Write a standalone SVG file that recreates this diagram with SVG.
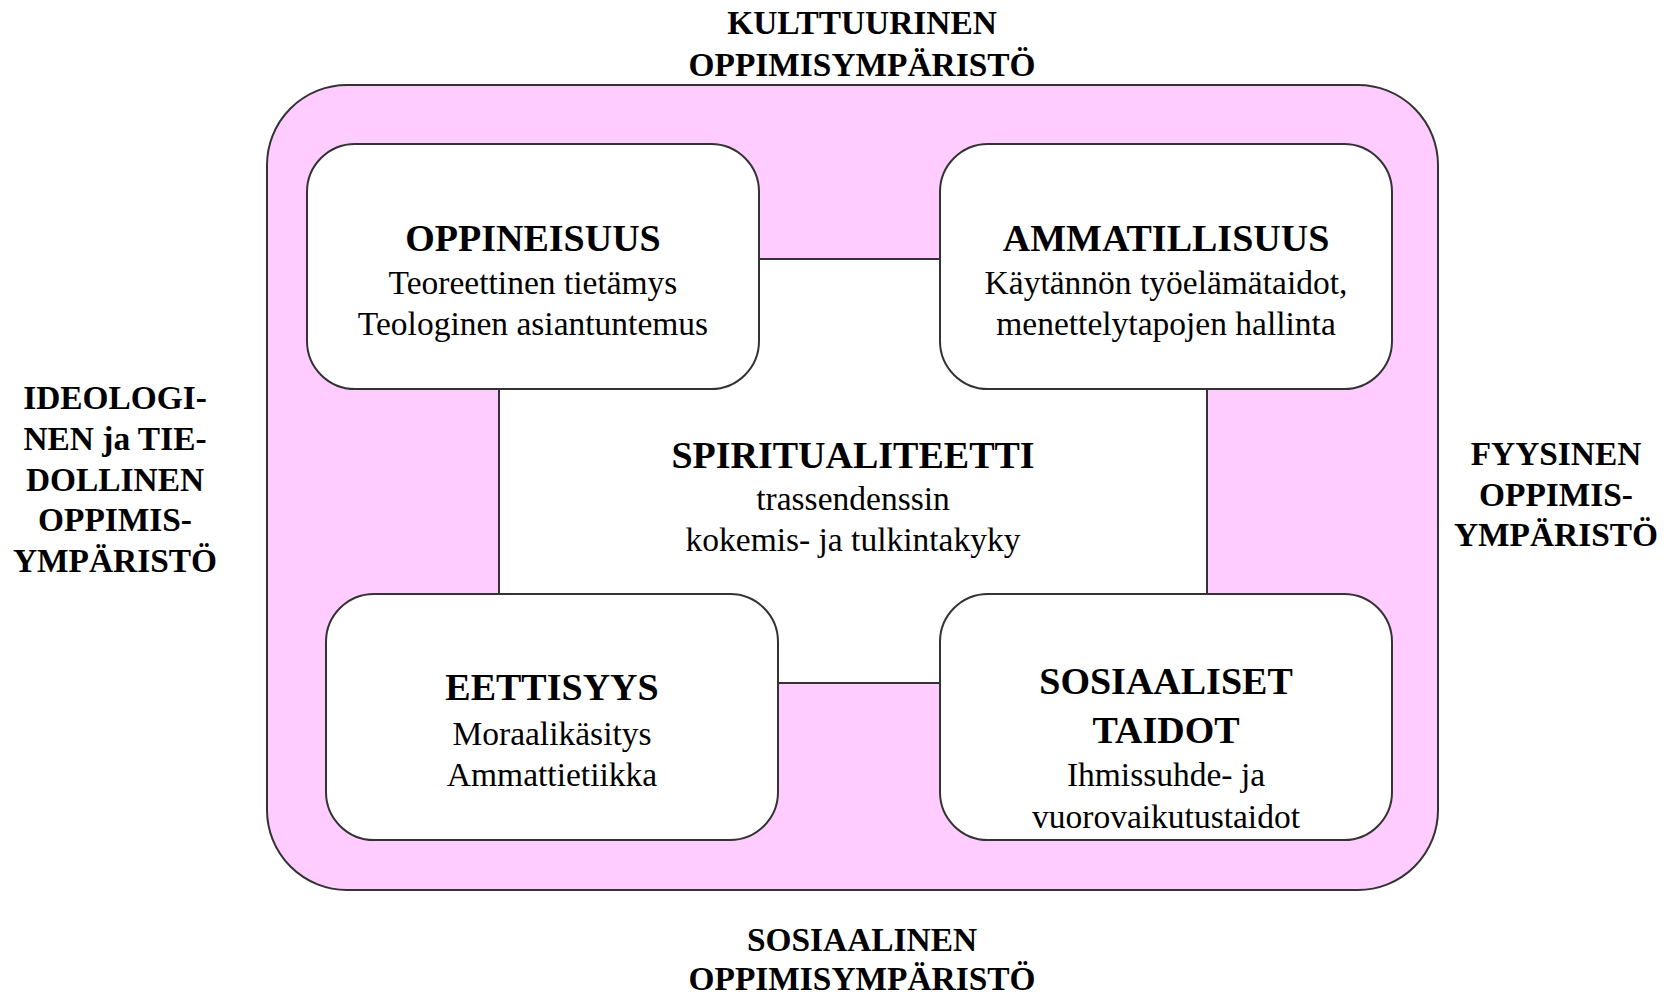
<svg xmlns="http://www.w3.org/2000/svg" width="1671" height="996" viewBox="0 0 1671 996">
<style>
.lbl{font-family:"Liberation Serif","Times New Roman",serif;font-weight:bold;font-size:33.4px;fill:#000;text-anchor:middle}
.ttl{font-family:"Liberation Serif","Times New Roman",serif;font-weight:bold;font-size:38px;fill:#000;text-anchor:middle}
.txt{font-family:"Liberation Serif","Times New Roman",serif;font-size:33.5px;fill:#000;text-anchor:middle}
.box{fill:#fff;stroke:#333;stroke-width:2}
.con{stroke:#333;stroke-width:2;fill:none}
</style>
<rect width="1671" height="996" fill="#fff"/>
<g id="outer">
<rect x="267" y="85" width="1171" height="805" rx="80" ry="80" fill="#FFCCFF" stroke="#333" stroke-width="2"/>
</g>
<g id="labels">
<text class="lbl" x="862" y="34">KULTTUURINEN</text>
<text class="lbl" x="862" y="76">OPPIMISYMPÄRISTÖ</text>
<text class="lbl" x="862" y="951">SOSIAALINEN</text>
<text class="lbl" x="862" y="990">OPPIMISYMPÄRISTÖ</text>
<text class="lbl" x="115" y="409">IDEOLOGI-</text>
<text class="lbl" x="115" y="450">NEN ja TIE-</text>
<text class="lbl" x="115" y="491">DOLLINEN</text>
<text class="lbl" x="115" y="531">OPPIMIS-</text>
<text class="lbl" x="115" y="572">YMPÄRISTÖ</text>
<text class="lbl" x="1556" y="465">FYYSINEN</text>
<text class="lbl" x="1556" y="506">OPPIMIS-</text>
<text class="lbl" x="1556" y="546">YMPÄRISTÖ</text>
</g>
<g id="spiritualiteetti">
<rect x="499" y="259" width="708" height="424" fill="#fff"/>
<text class="ttl" x="853" y="468">SPIRITUALITEETTI</text>
<text class="txt" x="853" y="510">trassendenssin</text>
<text class="txt" x="853" y="551">kokemis- ja tulkintakyky</text>
</g>
<g id="connectors">
<line class="con" x1="759" y1="259" x2="940" y2="259"/>
<line class="con" x1="778" y1="683" x2="940" y2="683"/>
<line class="con" x1="499" y1="389" x2="499" y2="594"/>
<line class="con" x1="1207" y1="389" x2="1207" y2="594"/>
</g>
<g id="oppineisuus">
<rect class="box" x="307" y="144" width="452" height="245" rx="48" ry="48"/>
<text class="ttl" x="533" y="251">OPPINEISUUS</text>
<text class="txt" x="533" y="294">Teoreettinen tietämys</text>
<text class="txt" x="533" y="335">Teologinen asiantuntemus</text>
</g>
<g id="ammatillisuus">
<rect class="box" x="940" y="144" width="452" height="245" rx="48" ry="48"/>
<text class="ttl" x="1166" y="251">AMMATILLISUUS</text>
<text class="txt" x="1166" y="294">Käytännön työelämätaidot,</text>
<text class="txt" x="1166" y="335">menettelytapojen hallinta</text>
</g>
<g id="eettisyys">
<rect class="box" x="326" y="594" width="452" height="246" rx="48" ry="48"/>
<text class="ttl" x="552" y="700">EETTISYYS</text>
<text class="txt" x="552" y="745">Moraalikäsitys</text>
<text class="txt" x="552" y="786">Ammattietiikka</text>
</g>
<g id="sosiaaliset">
<rect class="box" x="940" y="594" width="452" height="246" rx="48" ry="48"/>
<text class="ttl" x="1166" y="694">SOSIAALISET</text>
<text class="ttl" x="1166" y="743">TAIDOT</text>
<text class="txt" x="1166" y="786">Ihmissuhde- ja</text>
<text class="txt" x="1166" y="828">vuorovaikutustaidot</text>
</g>
</svg>
